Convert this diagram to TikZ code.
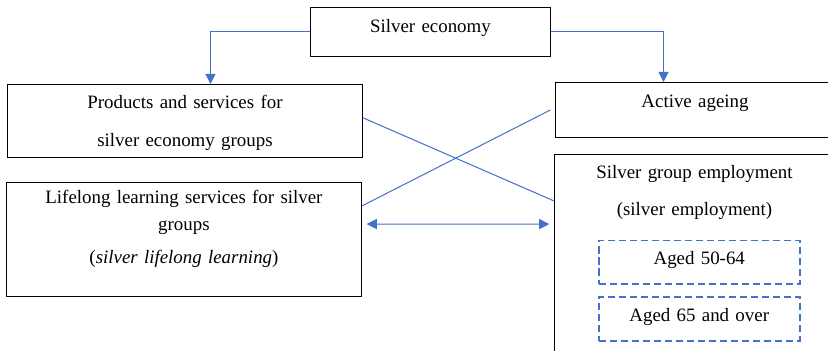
\documentclass[tikz,border=0pt]{standalone}
\usepackage{fontspec}
\setmainfont{Liberation Serif}
\usetikzlibrary{arrows.meta,positioning}
\definecolor{linkblue}{HTML}{4472C4}

\begin{document}
\begin{tikzpicture}[
  x=0.635pt, y=-0.635pt,
  box/.style={draw, line width=0.6pt, inner sep=0pt, anchor=north west, align=center, font=\fontsize{12}{14}\selectfont},
  agebox/.style={box, draw=linkblue, dash pattern=on 4.5pt off 2.5pt, line width=1pt, text width=127.6pt, text height=15.5pt, text depth=12.4pt},
  link/.style={linkblue, line width=0.65pt},
  onearrow/.style={-{Triangle[length=6.5pt,width=6.5pt]}},
  twoarrow/.style={{Triangle[length=6.5pt,width=6.5pt]}-{Triangle[length=6.5pt,width=6.5pt]}}
]
\useasboundingbox (0,0) rectangle (828,350);
\clip (0,0) rectangle (828,350);

% top
\node[box, text width=152.4pt, text height=15.9pt, text depth=15.2pt] (econ) at (310,7) {Silver economy};

% left column
\node[box, text width=225.4pt, text height=15.2pt, text depth=31.1pt] (prod) at (7,84) {Products and services for\\[10.1pt] silver economy groups};
\node[box, text width=225.4pt, text height=13.3pt, text depth=59.1pt] (learn) at (6,182) {Lifelong learning services for silver\\[3.1pt] groups\\[7pt] (\textit{silver lifelong learning})};

% right column
\node[box, text width=177.2pt, text height=15.9pt, text depth=19.1pt] (act) at (555,82) {Active ageing};
\node[box, text width=177.8pt, text height=15.2pt, text depth=116pt] (emp) at (554,154) {Silver group employment\\[9.5pt] (silver employment)};
\node[agebox] (age1) at (598,239.5) {Aged 50-64};
\node[agebox, below=7pt of age1] (age2) {Aged 65 and over};

% links
\draw[link, onearrow] (econ.west) -| ([xshift=16.2pt]prod.north);
\draw[link, onearrow] (econ.east) -| ([xshift=-20pt]act.north);
\draw[link] ([yshift=2pt]prod.east) -- ([yshift=-29.8pt]emp.north west);
\draw[link] ([yshift=-15.2pt]learn.north east) -- ([xshift=-3pt]act.west);
\draw[link, twoarrow] ([xshift=3pt,yshift=-26.7pt]learn.north east) -- ([xshift=-3pt,yshift=-44.5pt]emp.north west);
\end{tikzpicture}
\end{document}
